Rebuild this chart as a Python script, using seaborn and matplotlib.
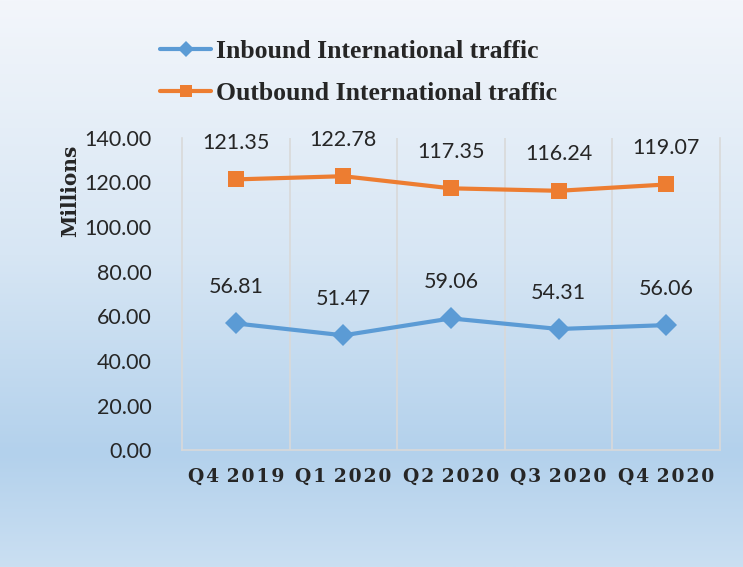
import matplotlib.pyplot as plt
from matplotlib.colors import LinearSegmentedColormap
from matplotlib.lines import Line2D
import pandas as pd
import numpy as np
import seaborn as sns

# data
quarters = ['Q4 2019', 'Q1 2020', 'Q2 2020', 'Q3 2020', 'Q4 2020']
inbound = [56.81, 51.47, 59.06, 54.31, 56.06]
outbound = [121.35, 122.78, 117.35, 116.24, 119.07]
series_names = ['Inbound International traffic', 'Outbound International traffic']
series_colors = ['#5b9bd5', '#ed7d31']
series_markers = ['D', 's']

df = pd.DataFrame({
    'Quarter': quarters * 2,
    'Value': inbound + outbound,
    'Series': [series_names[0]] * len(quarters) + [series_names[1]] * len(quarters),
})

sns.set_style('white')
fig = plt.figure(figsize=(7.43, 5.67), dpi=100)

# gradient background
bg_cmap = LinearSegmentedColormap.from_list('bg', [
    (0.0, '#f3f6fb'), (0.45, '#d7e6f4'), (0.8, '#b3d1ec'), (1.0, '#cadff2')])
bg = fig.add_axes([0, 0, 1, 1], zorder=-10)
bg.imshow(np.linspace(0, 1, 256).reshape(-1, 1), aspect='auto', cmap=bg_cmap,
          extent=[0, 1, 0, 1])
bg.set_axis_off()

ax = fig.add_axes([0.245, 0.206, 0.724, 0.551])
ax.patch.set_alpha(0)

for name, color, mk in zip(series_names, series_colors, series_markers):
    sub = df[df['Series'] == name]
    sns.lineplot(data=sub, x='Quarter', y='Value', ax=ax, color=color, lw=3,
                 marker=mk, markersize=11 if mk == 'D' else 11.5,
                 markeredgewidth=0, legend=False, sort=False)
    for i, v in enumerate(sub['Value']):
        ax.annotate(f'{v:.2f}', (i, v), xytext=(0, 19), textcoords='offset points',
                    ha='center', va='bottom', fontsize=15.5, family='Lato')

ax.set_xlim(-0.5, len(quarters) - 0.5)
ax.set_ylim(0, 140)
ax.set_yticks(np.arange(0, 141, 20))
ax.set_yticklabels([f'{t:.2f}' for t in np.arange(0, 141, 20)], fontsize=15.5, family='Lato')
ax.set_xticks(range(len(quarters)))
# letter-spaced tick labels
spaced = ['\u200a'.join(q.split(' ')[0]) + '\u2009\u2009' + '\u200a'.join(q.split(' ')[1])
          for q in quarters]
ax.set_xticklabels(spaced, fontsize=13.5, fontweight='bold', family='DejaVu Serif')
ax.set_xticks(np.arange(0.5, len(quarters) - 1), minor=True)
ax.grid(which='minor', axis='x', color='#d9d9d9', lw=1.2)
ax.tick_params(axis='both', which='both', length=0, pad=13)
ax.tick_params(axis='y', pad=22)
for s in ['left', 'right', 'bottom']:
    ax.spines[s].set_color('#d9d9d9')
    ax.spines[s].set_linewidth(1.2)
ax.spines['top'].set_visible(False)
ax.set_xlabel('')
ax.set_ylabel('Millions', fontsize=14.5, fontweight='bold', family='DejaVu Serif')
ax.yaxis.set_label_coords(-0.19, 0.83)

handles = [Line2D([], [], color=c, lw=3, marker=m, markersize=8 if m == 'D' else 9,
                  markeredgewidth=0) for c, m in zip(series_colors, series_markers)]
fig.legend(handles, series_names, loc='upper left', bbox_to_anchor=(0.184, 0.97), frameon=False,
           prop={'family': 'Liberation Serif', 'weight': 'bold', 'size': 18.5},
           handlelength=2.0, handletextpad=0.2, labelspacing=0.75)

plt.savefig('out.png', dpi=100)
